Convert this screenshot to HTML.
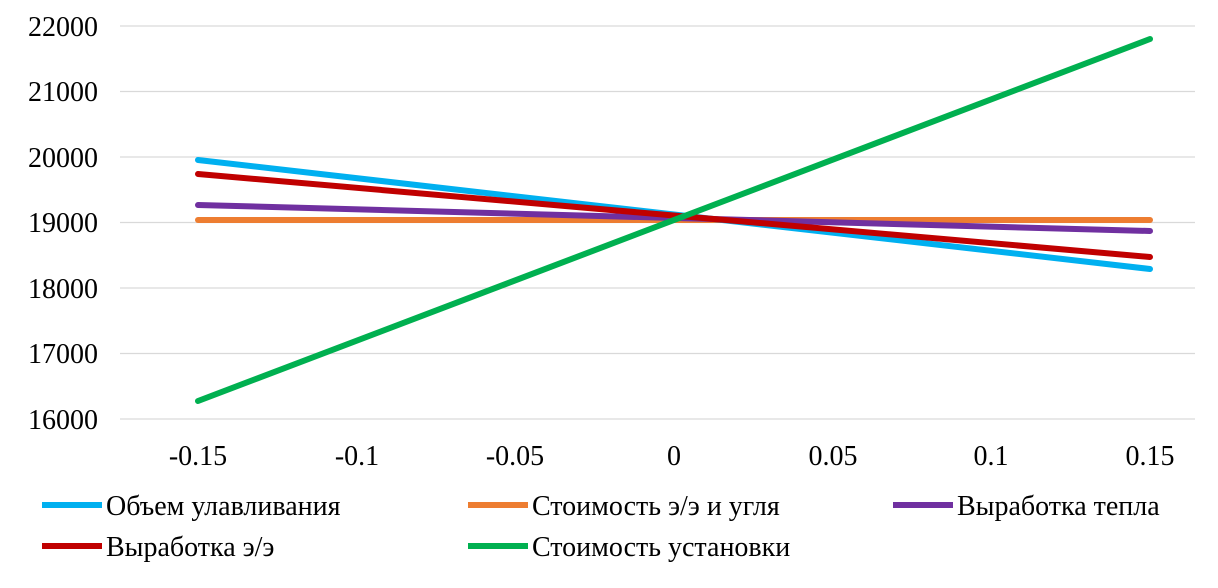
<!DOCTYPE html>
<html><head><meta charset="utf-8"><style>
html,body{margin:0;padding:0;background:#fff;}
svg{display:block;}
text{font-family:"Liberation Serif",serif;font-size:28px;fill:#000;}
</style></head><body>
<svg width="1218" height="588" viewBox="0 0 1218 588">
<g stroke="#d9d9d9" stroke-width="1.3">
<line x1="120" x2="1195" y1="26" y2="26"/>
<line x1="120" x2="1195" y1="91.5" y2="91.5"/>
<line x1="120" x2="1195" y1="157" y2="157"/>
<line x1="120" x2="1195" y1="222.5" y2="222.5"/>
<line x1="120" x2="1195" y1="288" y2="288"/>
<line x1="120" x2="1195" y1="353.5" y2="353.5"/>
<line x1="120" x2="1195" y1="419" y2="419"/>
</g>
<g text-anchor="end">
<text x="98" y="36">22000</text>
<text x="98" y="101">21000</text>
<text x="98" y="167">20000</text>
<text x="98" y="232">19000</text>
<text x="98" y="298">18000</text>
<text x="98" y="363">17000</text>
<text x="98" y="429">16000</text>
</g>
<g text-anchor="middle">
<text x="198" y="465">-0.15</text>
<text x="357" y="465">-0.1</text>
<text x="515" y="465">-0.05</text>
<text x="674" y="465">0</text>
<text x="833" y="465">0.05</text>
<text x="991" y="465">0.1</text>
<text x="1150" y="465">0.15</text>
</g>
<g stroke-width="6" stroke-linecap="round" fill="none">
<line x1="198" y1="220" x2="1150" y2="220" stroke="#ed7d31"/>
<line x1="198" y1="160" x2="1150" y2="269" stroke="#00b0f0"/>
<line x1="198" y1="205" x2="1150" y2="231" stroke="#7030a0"/>
<line x1="198" y1="174" x2="1150" y2="257" stroke="#c00000"/>
<line x1="198" y1="401" x2="1150" y2="39" stroke="#00b050"/>
</g>
<g stroke-width="6">
<line x1="42" x2="102" y1="505" y2="505" stroke="#00b0f0"/>
<line x1="468" x2="528" y1="505" y2="505" stroke="#ed7d31"/>
<line x1="893" x2="953" y1="505" y2="505" stroke="#7030a0"/>
<line x1="42" x2="102" y1="546" y2="546" stroke="#c00000"/>
<line x1="468" x2="528" y1="546" y2="546" stroke="#00b050"/>
</g>
<text x="106" y="515">Объем улавливания</text>
<text x="532" y="515">Стоимость э/э и угля</text>
<text x="957" y="515">Выработка тепла</text>
<text x="106" y="556">Выработка э/э</text>
<text x="532" y="556">Стоимость установки</text>
</svg>
</body></html>
